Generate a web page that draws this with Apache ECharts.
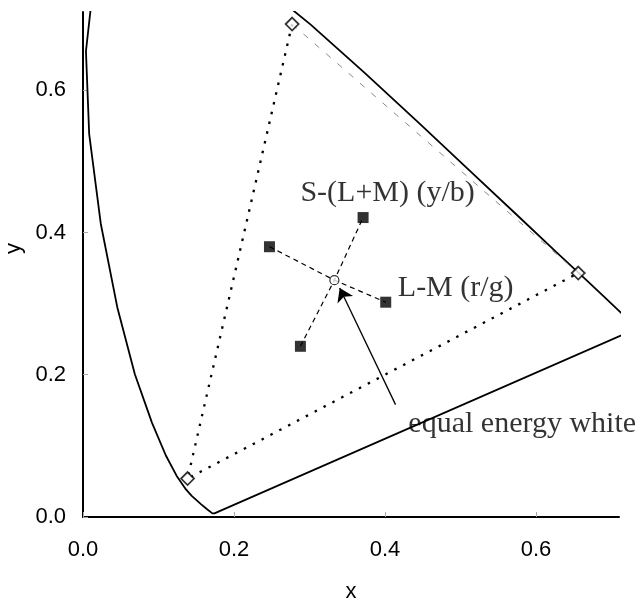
<!DOCTYPE html>
<html>
<head>
<meta charset="utf-8">
<script src="https://cdn.jsdelivr.net/npm/echarts@6/dist/echarts.min.js"></script>
<style>
  html, body { margin: 0; padding: 0; background: #fff; }
  #chart { width: 639px; height: 603px; }
</style>
</head>
<body>
<div id="chart"></div>
<script>
// spectrum locus (x, y), purple line closes 700 -> 380
var locus = [
  [0.7347, 0.2653], [0.1741, 0.0050], [0.1714, 0.0051], [0.1689, 0.0069],
  [0.1644, 0.0109], [0.1566, 0.0177], [0.1440, 0.0297], [0.1355, 0.0399],
  [0.1241, 0.0578], [0.1096, 0.0868], [0.0913, 0.1327], [0.0687, 0.2007],
  [0.0454, 0.2950], [0.0235, 0.4127], [0.0082, 0.5384], [0.0039, 0.6548],
  [0.0139, 0.7502], [0.0743, 0.8338], [0.1547, 0.8059], [0.2296, 0.7543],
  [0.3016, 0.6923], [0.3731, 0.6245], [0.4441, 0.5547], [0.5125, 0.4866],
  [0.5752, 0.4242], [0.6270, 0.3725], [0.6658, 0.3340], [0.6915, 0.3083],
  [0.7079, 0.2920], [0.7190, 0.2809], [0.7347, 0.2653]
];
// cone primaries: S (bottom left), M (top), L (right)
var primaries = [[0.1385, 0.054], [0.277, 0.693], [0.656, 0.343]];
var whitePoint = [0.333, 0.333];
var lmEnds = [[0.247, 0.380], [0.401, 0.302]];
var sEnds = [[0.288, 0.240], [0.371, 0.421]];
var arrow = [[0.414, 0.158], [0.340, 0.322]];
var labelTexts = ['S-(L+M) (y/b)', 'L-M (r/g)', 'equal energy white'];
var labelAt = [[0.288, 0.456], [0.417, 0.322], [0.431, 0.131]];

var chart = echarts.init(document.getElementById('chart'));

var axisFont = {
  fontFamily: 'Liberation Sans, Arial, sans-serif',
  fontSize: 22,
  color: '#000'
};

function makeAxis(name) {
  return {
    type: 'value',
    min: 0,
    max: 0.71,
    interval: 0.2,
    name: name,
    nameLocation: 'middle',
    axisLine: {lineStyle: {color: '#000', width: 2}},
    axisTick: {inside: true, length: 5, lineStyle: {color: '#aaa', width: 1}},
    splitLine: {show: false},
    axisLabel: Object.assign({
      showMaxLabel: false,
      formatter: function (v) { return v.toFixed(1); }
    }, axisFont)
  };
}

var xAxis = makeAxis('x');
xAxis.nameGap = 64;
xAxis.axisLabel.margin = 22;
xAxis.nameTextStyle = Object.assign({}, axisFont, {fontSize: 22});
var yAxis = makeAxis('y');
yAxis.nameGap = 57;
yAxis.axisLabel.margin = 17;
yAxis.nameRotate = 90;
yAxis.nameTextStyle = Object.assign({}, axisFont, {fontSize: 22, padding: [0, 0, 0, 32]});

var serif = 'Liberation Serif, Times New Roman, serif';

var option = {
  animation: false,
  backgroundColor: '#fff',
  grid: {left: 83, right: 20, top: 12, bottom: 86, outerBoundsMode: 'none'},
  xAxis: xAxis,
  yAxis: yAxis,
  series: [
    {
      type: 'line', data: locus, showSymbol: false, clip: true,
      lineStyle: {color: '#000', width: 1.8}
    },
    {
      type: 'line', data: [primaries[1], primaries[0], primaries[2]], showSymbol: false,
      lineStyle: {color: '#000', width: 2.3, type: [2.5, 7.5]}
    },
    {
      type: 'line', data: [primaries[1], primaries[2]], showSymbol: false,
      lineStyle: {color: '#888', width: 1, type: [6, 9]}
    },
    {
      type: 'line', data: [lmEnds[0], whitePoint, lmEnds[1]], showSymbol: false,
      lineStyle: {color: '#000', width: 1.2, type: [5, 4]}
    },
    {
      type: 'line', data: [sEnds[0], whitePoint, sEnds[1]], showSymbol: false,
      lineStyle: {color: '#000', width: 1.2, type: [5, 4]}
    },
    {
      type: 'lines', coordinateSystem: 'cartesian2d',
      data: [{coords: arrow}],
      symbol: ['none', 'arrow'], symbolSize: [9, 13],
      lineStyle: {color: '#000', width: 1.3, opacity: 1}
    },
    {
      type: 'scatter', data: lmEnds.concat(sEnds), symbol: 'rect', symbolSize: 11, z: 5,
      itemStyle: {color: '#000'}
    },
    {
      type: 'scatter', data: primaries, symbol: 'diamond', symbolSize: 13, z: 5,
      itemStyle: {color: '#fff', borderColor: '#000', borderWidth: 1.8}
    },
    {
      type: 'scatter', data: [whitePoint], symbol: 'circle', symbolSize: 9, z: 5,
      itemStyle: {color: '#fff', borderColor: '#000', borderWidth: 1.2}
    },
    {
      type: 'scatter', symbolSize: 0, silent: true, z: 6,
      data: labelAt.map(function (p, i) { return {value: p, name: labelTexts[i]}; }),
      label: {
        show: true, position: 'right', distance: 0,
        formatter: '{b}', color: '#000',
        fontFamily: serif, fontSize: 30
      }
    }
  ]
};

chart.setOption(option);
</script>
</body>
</html>
